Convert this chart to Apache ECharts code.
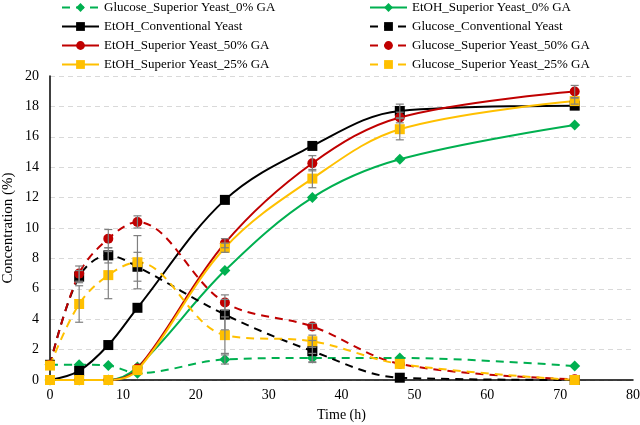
<!DOCTYPE html>
<html><head><meta charset="utf-8">
<script src="https://cdn.jsdelivr.net/npm/echarts@6/dist/echarts.min.js"></script>
<style>html,body{margin:0;padding:0;background:#fff}#c{width:640px;height:425px}</style>
</head><body><div id="c"></div>
<script>
var times = [0, 4, 8, 12, 24, 36, 48, 72];
var xTicks = [0, 10, 20, 30, 40, 50, 60, 70, 80];
var yTicks = [0, 2, 4, 6, 8, 10, 12, 14, 16, 18, 20];

var glucose0 = [1.0, 1.0, 0.95, 0.45, 1.35, 1.45, 1.45, 0.92];
var etoh0    = [0, 0, 0, 0.85, 7.2, 12.0, 14.52, 16.78];
var etohConv = [0, 0.6, 2.3, 4.75, 11.85, 15.4, 17.7, 18.05];
var glucConv = [1.0, 6.8, 8.2, 7.45, 4.3, 1.9, 0.15, 0.0];
var etoh50   = [0, 0, 0, 0.75, 9.0, 14.26, 17.27, 18.98];
var gluc50   = [1.0, 7.0, 9.3, 10.4, 5.1, 3.52, 1.06, 0.05];
var etoh25   = [0, 0, 0, 0.65, 8.7, 13.25, 16.5, 18.35];
var gluc25   = [0.95, 5.0, 6.9, 7.75, 2.95, 2.55, 1.06, 0.0];

var glucose0Err = [0, 0, 0, 0, 0.3, 0.3, 0, 0];
var etoh0Err    = [0, 0, 0, 0, 0, 0, 0, 0];
var etohConvErr = [0, 0, 0, 0, 0, 0, 0.45, 0];
var glucConvErr = [0, 0.4, 0.5, 0.95, 1.0, 0.7, 0, 0];
var etoh50Err   = [0, 0, 0, 0, 0.3, 0.5, 0.35, 0.4];
var gluc50Err   = [0, 0.5, 0.6, 0.4, 0.5, 0.2, 0, 0];
var etoh25Err   = [0, 0, 0, 0, 0.3, 0.6, 0.7, 0.2];
var gluc25Err   = [0, 1.2, 1.55, 1.75, 1.2, 0.4, 0, 0];

var names = {
  g0: 'Glucose_Superior Yeast_0% GA', e0: 'EtOH_Superior Yeast_0% GA',
  ec: 'EtOH_Conventional Yeast', gc: 'Glucose_Conventional Yeast',
  e50: 'EtOH_Superior Yeast_50% GA', g50: 'Glucose_Superior Yeast_50% GA',
  e25: 'EtOH_Superior Yeast_25% GA', g25: 'Glucose_Superior Yeast_25% GA'
};
var GREEN = '#00B050', BLACK = '#000000', RED = '#C00000', YEL = '#FFC000';
var FONT = '"Liberation Serif", "Times New Roman", serif';

function pairs(v) { return times.map(function (t, i) { return [t, v[i]]; }); }

function lineSeries(name, vals, color, symbol, size, dashed) {
  return {
    name: name, type: 'line', data: pairs(vals), smooth: 0.35,
    symbol: symbol, symbolSize: size, showAllSymbol: true,
    itemStyle: { color: color },
    lineStyle: { color: color, width: 2, type: dashed ? [8, 6] : 'solid' },
    emphasis: { disabled: true }, z: 3
  };
}

function errSeries(vals, errs) {
  var d = [];
  times.forEach(function (t, i) { if (errs[i] > 0) d.push([t, vals[i] - errs[i], vals[i] + errs[i]]); });
  return {
    type: 'custom', data: d, z: 4, silent: true,
    renderItem: function (params, api) {
      var lo = api.coord([api.value(0), api.value(1)]);
      var hi = api.coord([api.value(0), api.value(2)]);
      var w = 4;
      var st = { stroke: '#7F7F7F', lineWidth: 1.2 };
      return { type: 'group', children: [
        { type: 'line', shape: { x1: lo[0], y1: lo[1], x2: hi[0], y2: hi[1] }, style: st },
        { type: 'line', shape: { x1: lo[0] - w, y1: lo[1], x2: lo[0] + w, y2: lo[1] }, style: st },
        { type: 'line', shape: { x1: hi[0] - w, y1: hi[1], x2: hi[0] + w, y2: hi[1] }, style: st }
      ]};
    },
    encode: { x: 0, y: [1, 2] }
  };
}

var chart = echarts.init(document.getElementById('c'));
var legendCommon = {
  orient: 'vertical', top: 1, padding: 0, itemGap: 6, itemWidth: 37, itemHeight: 11,
  textStyle: { fontFamily: FONT, fontSize: 13, color: '#000' }
};
chart.setOption({
  animation: false,
  backgroundColor: '#fff',
  legend: [
    Object.assign({ left: 61, data: [names.g0, names.ec, names.e50, names.e25] }, legendCommon),
    Object.assign({ left: 369, data: [names.e0, names.gc, names.g50, names.g25] }, legendCommon)
  ],
  grid: { left: 50, right: 7, top: 76, bottom: 45, containLabel: false, outerBoundsMode: 'none' },
  xAxis: {
    type: 'value', min: xTicks[0], max: xTicks[xTicks.length - 1], interval: 10,
    name: 'Time (h)', nameLocation: 'middle', nameGap: 28, nameMoveOverlap: false,
    nameTextStyle: { fontFamily: FONT, fontSize: 14, color: '#000' },
    axisLine: { lineStyle: { color: '#000', width: 1.5 } },
    axisTick: { show: false },
    axisLabel: { fontFamily: FONT, fontSize: 14, color: '#000', margin: 8 },
    splitLine: { show: false }
  },
  yAxis: {
    type: 'value', min: yTicks[0], max: yTicks[yTicks.length - 1], interval: 2,
    name: 'Concentration (%)', nameLocation: 'middle', nameGap: 34, nameMoveOverlap: false,
    nameTextStyle: { fontFamily: FONT, fontSize: 15, color: '#000' },
    axisLine: { show: true, lineStyle: { color: '#000', width: 1.5 } },
    axisTick: { show: false },
    axisLabel: { fontFamily: FONT, fontSize: 14, color: '#000', margin: 11 },
    splitLine: { lineStyle: { color: '#D9D9D9', type: [5, 4], width: 1 } }
  },
  series: [
    lineSeries(names.g0, glucose0, GREEN, 'diamond', 11, true),
    lineSeries(names.e0, etoh0, GREEN, 'diamond', 11, false),
    lineSeries(names.ec, etohConv, BLACK, 'rect', 10, false),
    lineSeries(names.gc, glucConv, BLACK, 'rect', 10, true),
    lineSeries(names.e50, etoh50, RED, 'circle', 10, false),
    lineSeries(names.g50, gluc50, RED, 'circle', 10, true),
    lineSeries(names.e25, etoh25, YEL, 'rect', 10, false),
    lineSeries(names.g25, gluc25, YEL, 'rect', 10, true),
    errSeries(glucose0, glucose0Err),
    errSeries(etoh0, etoh0Err),
    errSeries(etohConv, etohConvErr),
    errSeries(glucConv, glucConvErr),
    errSeries(etoh50, etoh50Err),
    errSeries(gluc50, gluc50Err),
    errSeries(etoh25, etoh25Err),
    errSeries(gluc25, gluc25Err)
  ]
});
</script></body></html>
